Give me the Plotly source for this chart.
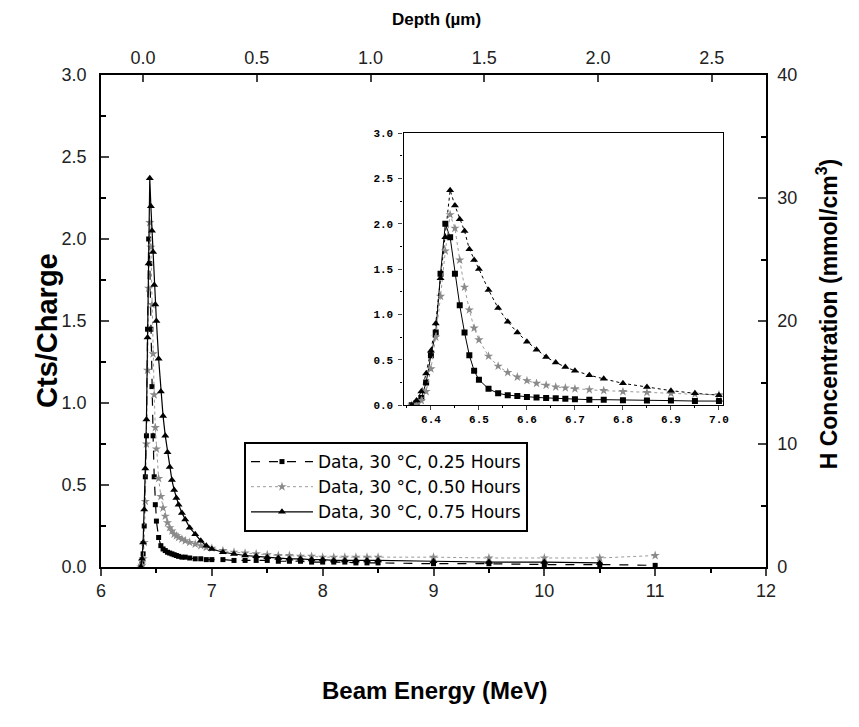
import plotly.graph_objects as go

# Beam energy (MeV) grid for the three measurements
energy = [6.36, 6.37, 6.38, 6.39, 6.40, 6.41, 6.42, 6.43, 6.44, 6.45,
          6.46, 6.47, 6.48, 6.49, 6.50, 6.52, 6.54, 6.56, 6.58, 6.60,
          6.62, 6.64, 6.66, 6.68, 6.70, 6.73, 6.76, 6.80, 6.85, 6.90,
          6.95, 7.00, 7.10, 7.20, 7.30, 7.40, 7.50, 7.60, 7.70, 7.80,
          7.90, 8.00, 8.10, 8.20, 8.30, 8.40, 8.50, 9.00, 9.50, 10.00,
          10.50, 11.00]

# Cts/Charge, 0.25 hours
cts_025 = [0.00, 0.02, 0.08, 0.25, 0.55, 0.80, 1.45, 2.00, 1.85, 1.45,
           1.10, 0.80, 0.55, 0.38, 0.28, 0.18, 0.13, 0.11, 0.10, 0.09,
           0.085, 0.08, 0.075, 0.07, 0.065, 0.06, 0.06, 0.055, 0.05, 0.05,
           0.045, 0.045, 0.045, 0.04, 0.04, 0.04, 0.04, 0.035, 0.035, 0.035,
           0.03, 0.03, 0.03, 0.03, 0.025, 0.025, 0.025, 0.02, 0.02, 0.015,
           0.015, 0.01]

# Cts/Charge, 0.50 hours
cts_050 = [0.00, 0.01, 0.05, 0.15, 0.40, 0.75, 1.20, 1.70, 2.10, 1.95,
           1.60, 1.30, 1.05, 0.85, 0.72, 0.54, 0.43, 0.36, 0.31, 0.27,
           0.24, 0.22, 0.20, 0.19, 0.18, 0.17, 0.16, 0.15, 0.14, 0.13,
           0.12, 0.115, 0.10, 0.09, 0.085, 0.08, 0.075, 0.07, 0.07, 0.065,
           0.065, 0.06, 0.06, 0.06, 0.06, 0.06, 0.06, 0.06, 0.055, 0.055,
           0.055, 0.07]

# Cts/Charge, 0.75 hours
cts_075 = [0.00, 0.05, 0.15, 0.35, 0.60, 0.90, 1.40, 1.85, 2.37, 2.20,
           2.05, 1.92, 1.72, 1.60, 1.50, 1.27, 1.07, 0.92, 0.80, 0.70,
           0.61, 0.53, 0.47, 0.42, 0.38, 0.33, 0.29, 0.24, 0.20, 0.16,
           0.13, 0.11, 0.09, 0.08, 0.07, 0.065, 0.06, 0.055, 0.05, 0.05,
           0.045, 0.045, 0.04, 0.04, 0.04, 0.04, 0.04, 0.035, 0.03, 0.03,
           0.025, None]

labels = ["Data, 30 °C, 0.25 Hours", "Data, 30 °C, 0.50 Hours", "Data, 30 °C, 0.75 Hours"]

FONT = "Liberation Sans, Arial, sans-serif"

fig = go.Figure()

# main plot
fig.add_trace(go.Scatter(x=energy, y=cts_025, name=labels[0], mode="lines+markers",
                         line=dict(color="black", width=1.2, dash="dash"),
                         marker=dict(symbol="square", size=5, color="black")))
fig.add_trace(go.Scatter(x=energy, y=cts_050, name=labels[1], mode="lines+markers",
                         line=dict(color="#9a9a9a", width=1, dash="dot"),
                         marker=dict(symbol="star", size=7, color="#8a8a8a")))
fig.add_trace(go.Scatter(x=energy, y=cts_075, name=labels[2], mode="lines+markers",
                         line=dict(color="black", width=1.2),
                         marker=dict(symbol="triangle-up", size=7, color="black")))

# empty trace so the depth / concentration axes are drawn
fig.add_trace(go.Scatter(x=[], y=[], xaxis="x2", yaxis="y2", showlegend=False))

# inset
fig.add_trace(go.Scatter(x=energy, y=cts_025, xaxis="x3", yaxis="y3", mode="lines+markers",
                         showlegend=False, line=dict(color="black", width=1),
                         marker=dict(symbol="square", size=6, color="black")))
fig.add_trace(go.Scatter(x=energy, y=cts_050, xaxis="x3", yaxis="y3", mode="lines+markers",
                         showlegend=False, line=dict(color="#9a9a9a", width=1, dash="dot"),
                         marker=dict(symbol="star", size=7, color="#8a8a8a")))
fig.add_trace(go.Scatter(x=energy, y=cts_075, xaxis="x3", yaxis="y3", mode="lines+markers",
                         showlegend=False, line=dict(color="black", width=1, dash="dot"),
                         marker=dict(symbol="triangle-up", size=7, color="black")))

tickfont = dict(family=FONT, size=18, color="#222")
insetfont = dict(family="Liberation Mono, monospace", size=11, color="black", weight="bold")

fig.update_layout(
    width=859, height=727,
    margin=dict(l=93, r=101, t=67, b=168),
    paper_bgcolor="white", plot_bgcolor="white",
    font=dict(family=FONT, color="black"),
    xaxis=dict(range=[6, 12], dtick=1, ticks="outside", ticklen=7, tickwidth=1.5,
               showline=True, linecolor="black", linewidth=1.5, showgrid=False, zeroline=False,
               tickfont=tickfont, minor=dict(dtick=0.5, ticks="outside", ticklen=4, tickcolor="black")),
    xaxis2=dict(overlaying="x", side="top", anchor="y", range=[-0.185, 2.738], dtick=0.5,
                tickformat=".1f", ticks="inside", ticklen=7, tickwidth=1.5, ticklabelstandoff=2,
                showline=True, linecolor="black", linewidth=1.5, showgrid=False, zeroline=False,
                tickfont=tickfont),
    yaxis=dict(range=[0, 3], dtick=0.5, tickformat=".1f", ticks="inside", ticklen=8, tickwidth=1.5,
               ticklabelstandoff=9,
               showline=True, linecolor="black", linewidth=1.5, showgrid=False, zeroline=False,
               tickfont=tickfont, minor=dict(dtick=0.25, ticks="inside", ticklen=5, tickcolor="black")),
    yaxis2=dict(overlaying="y", side="right", anchor="x", range=[0, 40], dtick=10,
                ticks="inside", ticklen=8, tickwidth=1.5, ticklabelstandoff=6,
                showline=True, linecolor="black", linewidth=1.5, showgrid=False, zeroline=False,
                tickfont=tickfont,
                minor=dict(dtick=5, ticks="inside", ticklen=5, tickcolor="black")),
    xaxis3=dict(domain=[0.455, 0.935], anchor="y3", range=[6.343, 7.008], tick0=6.4, dtick=0.1,
                tickformat=".1f", ticks="outside", ticklen=4, tickwidth=1.2,
                showline=True, mirror=True, linecolor="black", linewidth=1.3,
                showgrid=False, zeroline=False, tickfont=insetfont,
                minor=dict(dtick=0.05, ticks="outside", ticklen=2, tickcolor="black")),
    yaxis3=dict(domain=[0.329, 0.882], anchor="x3", range=[0, 3], dtick=0.5, tickformat=".1f",
                ticks="outside", ticklen=4, tickwidth=1.2, ticklabelstandoff=3,
                showline=True, mirror=True, linecolor="black", linewidth=1.3,
                showgrid=False, zeroline=False, tickfont=insetfont,
                minor=dict(dtick=0.25, ticks="outside", ticklen=2, tickcolor="black")),
    legend=dict(x=0.215, y=0.254, xanchor="left", yanchor="top",
                bgcolor="white", bordercolor="black", borderwidth=2,
                font=dict(family="DejaVu Sans, sans-serif", size=17, color="black"), itemwidth=62,
                tracegroupgap=0),
    showlegend=True,
)

titles = [
    dict(text="Cts/Charge", x=-0.081, y=0.48, textangle=-90, size=29),
    dict(text="H Concentration (mmol/cm<sup>3</sup>)", x=1.092, y=0.514, textangle=-90, size=23),
    dict(text="Depth (µm)", x=0.505, y=1.112, textangle=0, size=17),
    dict(text="Beam Energy (MeV)", x=0.501, y=-0.252, textangle=0, size=24),
]
for t in titles:
    fig.add_annotation(text=t["text"], x=t["x"], y=t["y"], xref="paper", yref="paper",
                       textangle=t["textangle"], showarrow=False, xanchor="center", yanchor="middle",
                       font=dict(family=FONT, size=t["size"], color="black", weight="bold"))

fig.write_html("out.html")
